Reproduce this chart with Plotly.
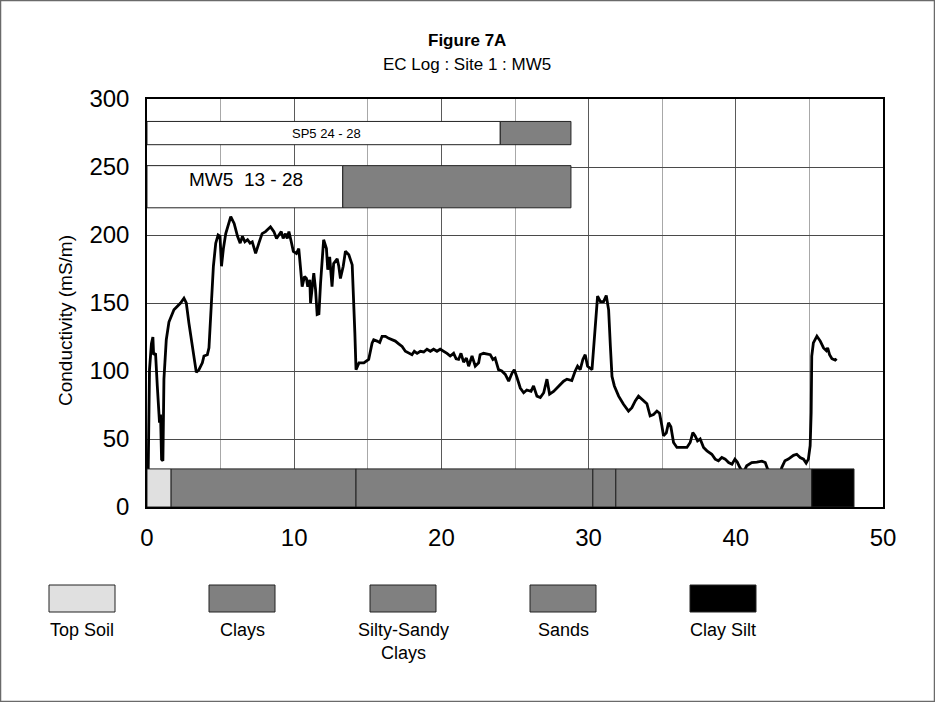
import plotly.graph_objects as go

# ---------------- data ----------------
depth = [0.05, 0.12, 0.17, 0.3, 0.4, 0.45, 0.58, 0.7, 0.85, 0.92, 0.99, 1.08, 1.15, 1.31, 1.49, 1.83, 2.06,
         2.28, 2.51, 2.67, 2.85, 3.08, 3.35, 3.53, 3.76, 3.87, 4.1, 4.21, 4.33, 4.51, 4.67, 4.83, 4.96, 5.06,
         5.19, 5.35, 5.69, 5.92, 6.15, 6.33, 6.48, 6.65, 6.83, 7.0, 7.15, 7.38, 7.6, 7.82, 8.05, 8.27, 8.39,
         8.62, 8.8, 8.96, 9.12, 9.25, 9.41, 9.53, 9.64, 9.8, 9.94, 10.15, 10.31, 10.42, 10.54, 10.7, 10.83,
         10.92, 11.06, 11.11, 11.22, 11.33, 11.45, 11.56, 11.68, 11.79, 12.0, 12.19, 12.28, 12.41, 12.57,
         12.68, 12.92, 13.03, 13.14, 13.33, 13.48, 13.71, 13.94, 14.05, 14.12, 14.2, 14.4, 14.73, 15.06,
         15.29, 15.4, 15.63, 15.81, 15.97, 16.2, 16.42, 16.64, 16.87, 17.1, 17.33, 17.55, 17.78, 18.0, 18.16,
         18.35, 18.57, 18.8, 19.02, 19.25, 19.47, 19.7, 19.92, 20.16, 20.38, 20.6, 20.83, 21.0, 21.17, 21.33,
         21.51, 21.7, 21.85, 22.08, 22.3, 22.53, 22.63, 22.86, 23.09, 23.32, 23.5, 23.65, 23.88, 24.1, 24.34,
         24.57, 24.8, 24.95, 25.14, 25.36, 25.59, 25.8, 26.09, 26.26, 26.49, 26.72, 26.95, 27.17, 27.35,
         27.62, 27.85, 28.08, 28.3, 28.53, 28.86, 29.09, 29.25, 29.43, 29.61, 29.77, 29.93, 30.23, 30.34,
         30.45, 30.61, 30.8, 31.02, 31.2, 31.36, 31.48, 31.59, 31.75, 32.04, 32.37, 32.71, 32.94, 33.17,
         33.39, 33.62, 33.96, 34.18, 34.41, 34.64, 34.82, 34.98, 35.09, 35.28, 35.43, 35.59, 35.77, 36.0,
         36.34, 36.68, 36.9, 37.08, 37.24, 37.4, 37.58, 37.81, 38.04, 38.37, 38.6, 38.82, 39.05, 39.28,
         39.51, 39.74, 39.94, 40.1, 40.28, 40.5, 40.74, 41.08, 41.43, 41.77, 42.0, 42.16, 42.5, 43.0, 43.12,
         43.34, 43.57, 43.92, 44.14, 44.37, 44.6, 44.78, 44.93, 45.05, 45.12, 45.16, 45.27, 45.51, 45.74,
         45.96, 46.15, 46.24, 46.37, 46.53, 46.75, 46.85]
conductivity = [0, 60, 101, 120, 125, 112, 113, 89, 62, 68, 35, 34, 94, 123, 136, 145, 147.5,
                150, 153.5, 150, 135, 118, 99, 101, 106, 111, 112, 117, 138, 177, 194, 200, 199, 177,
                190, 201, 213.5, 208.5, 199, 194, 199, 195, 196.5, 194, 195, 186.5, 194, 201, 202.5, 205, 206,
                202.5, 197.5, 200, 202.5, 197.5, 201, 197.5, 202.5, 195, 188, 186.5, 190, 177, 162, 169.5, 168,
                162, 167, 150, 162, 172, 160, 141.5, 142, 164.5, 196.5, 190, 174.5, 184, 162,
                179, 182.5, 177, 168, 177, 188, 185.5, 178, 152, 128, 101, 106, 106, 108.5,
                120.5, 123, 122, 121, 125.5, 125.5, 124, 123, 122, 120, 118, 114.5, 113, 112, 114.5,
                113, 114.5, 114, 116, 114.5, 116, 114.5, 116, 114.5, 113, 111, 113, 109, 108.5, 113,
                106.5, 109.5, 103.5, 111, 103.5, 106, 112, 113, 112.5, 112, 108.5, 109.5, 101, 100, 97.5,
                92.5, 98.5, 101, 95, 87.5, 84, 86, 85, 89, 81.5, 80.5, 84, 94, 83,
                85, 87.5, 90, 92.5, 94, 93, 100, 103.5, 101, 108.5, 112, 103.5, 101, 118,
                138, 155, 151, 151, 155.5, 145, 118, 96, 89, 81.5, 75.5, 70.5, 73, 78,
                81.5, 79, 76, 67, 68, 70.5, 69, 59.5, 52.3, 54.5, 62, 59, 47.4, 43.8,
                43.8, 43.8, 47.4, 54.7, 52.3, 48.6, 50, 43.8, 41.3, 38.8, 35.2, 34, 36.4, 35.2,
                32.7, 31.5, 35.2, 33, 29, 25, 30.3, 32.7, 33, 33.7, 32.7, 28, 24, 24, 29,
                34, 35.2, 38, 38.8, 36.4, 35.2, 32.3, 35.2, 45, 69.4, 111, 120.7, 125.6, 122,
                117, 115, 117, 112, 109, 108, 109]

# lithology column (depth intervals) drawn at the bottom of the chart
litho_start = [0, 1.64, 14.2, 30.29, 31.85, 45.16]
litho_end = [1.64, 14.2, 30.29, 31.85, 45.16, 48.03]
litho_type = ["Top Soil", "Clays", "Silty-Sandy Clays", "Sands", "Sands", "Clay Silt"]
litho_top = 28

# screened-interval bars
screen_names = ["SP5 24 - 28", "MW5\u00a0 13 - 28"]
screen_blank_end = [24.0, 13.3]
screen_end = [28.8, 28.8]
screen_low = [266.4, 220]
screen_high = [283.5, 251]

legend_labels = ["Top Soil", "Clays", "Silty-Sandy<br>Clays", "Sands", "Clay Silt"]
legend_keys = ["Top Soil", "Clays", "Silty-Sandy Clays", "Sands", "Clay Silt"]

x_ticks = [0, 10, 20, 30, 40, 50]
y_ticks = [0, 50, 100, 150, 200, 250, 300]

# ---------------- style ----------------
FONT = "Liberation Sans, Arial, sans-serif"
fill_of = {"Top Soil": "#e0e0e0", "Clays": "#808080", "Silty-Sandy Clays": "#808080",
           "Sands": "#808080", "Clay Silt": "#000000"}

W, H = 935, 702
L, R, T, B = 147, 883, 99, 507


def pxx(p):
    return (p - L) / (R - L)


def pxy(p):
    return (B - p) / (B - T)


fig = go.Figure()
fig.add_trace(go.Scatter(x=depth, y=conductivity, mode="lines",
                         line=dict(color="black", width=2.8), showlegend=False,
                         hoverinfo="skip"))

shapes = []
for s, e, t in zip(litho_start, litho_end, litho_type):
    shapes.append(dict(type="rect", xref="x", yref="y", x0=s, x1=e, y0=0, y1=litho_top,
                       fillcolor=fill_of[t], line=dict(color="#222", width=1), layer="above"))
annotations = []
for name, be, en, lo, hi in zip(screen_names, screen_blank_end, screen_end, screen_low, screen_high):
    shapes.append(dict(type="rect", xref="x", yref="y", x0=0, x1=be, y0=lo, y1=hi,
                       fillcolor="white", line=dict(color="#222", width=1), layer="above"))
    shapes.append(dict(type="rect", xref="x", yref="y", x0=be, x1=en, y0=lo, y1=hi,
                       fillcolor="#808080", line=dict(color="#222", width=1), layer="above"))

annotations.append(dict(x=12.2, y=(screen_low[0] + screen_high[0]) / 2, xref="x", yref="y",
                        text=screen_names[0], showarrow=False, xanchor="center", yanchor="middle",
                        font=dict(family=FONT, size=13, color="black")))
annotations.append(dict(x=6.7, y=(screen_low[1] + screen_high[1]) / 2 + 5, xref="x", yref="y",
                        text=screen_names[1], showarrow=False, xanchor="center", yanchor="middle",
                        font=dict(family=FONT, size=19, color="black")))

box_left = [49, 209, 370, 530, 690]
for bl, lab, key in zip(box_left, legend_labels, legend_keys):
    shapes.append(dict(type="rect", xref="paper", yref="paper", x0=pxx(bl), x1=pxx(bl + 66),
                       y0=pxy(612), y1=pxy(585), fillcolor=fill_of[key],
                       line=dict(color="#222", width=1)))
    annotations.append(dict(x=pxx(bl + 33), y=pxy(618), xref="paper", yref="paper",
                            text=lab, showarrow=False, xanchor="center", yanchor="top",
                            font=dict(family=FONT, size=18, color="black")))

shapes.append(dict(type="rect", xref="paper", yref="paper", x0=pxx(0.5), x1=pxx(934.5),
                   y0=pxy(701.5), y1=pxy(0.5), line=dict(color="#6a6a6a", width=1.5),
                   fillcolor="rgba(0,0,0,0)"))

annotations.append(dict(x=pxx(467), y=pxy(40), xref="paper", yref="paper",
                        text="<b>Figure 7A</b>", showarrow=False, xanchor="center", yanchor="middle",
                        font=dict(family=FONT, size=17, color="black")))
annotations.append(dict(x=pxx(467), y=pxy(64), xref="paper", yref="paper",
                        text="EC Log : Site 1 : MW5", showarrow=False, xanchor="center", yanchor="middle",
                        font=dict(family=FONT, size=17, color="black")))
annotations.append(dict(x=pxx(65), y=pxy(321), xref="paper", yref="paper",
                        text="Conductivity (mS/m)", showarrow=False, textangle=-90,
                        xanchor="center", yanchor="middle",
                        font=dict(family=FONT, size=19, color="black")))

fig.update_layout(
    width=W, height=H,
    margin=dict(l=L, r=W - R, t=T, b=H - B, pad=0),
    paper_bgcolor="white", plot_bgcolor="white",
    showlegend=False,
    shapes=shapes, annotations=annotations,
    xaxis=dict(range=[0, 50], tickvals=x_ticks, ticktext=[str(v) for v in x_ticks],
               showgrid=True, gridcolor="#5a5a5a", gridwidth=1,
               minor=dict(dtick=5, showgrid=True, gridcolor="#a8a8a8", gridwidth=1),
               showline=True, linecolor="black", linewidth=1.5, mirror=True,
               zeroline=False, ticks="", ticklabelstandoff=8,
               tickfont=dict(family=FONT, size=24, color="black")),
    yaxis=dict(range=[0, 300], tickvals=y_ticks, ticktext=[str(v) for v in y_ticks],
               showgrid=True, gridcolor="#4a4a4a", gridwidth=1,
               showline=True, linecolor="black", linewidth=1.5, mirror=True,
               zeroline=False, ticks="", ticklabelstandoff=11,
               tickfont=dict(family=FONT, size=24, color="black")),
)

fig.write_html("out.html")
